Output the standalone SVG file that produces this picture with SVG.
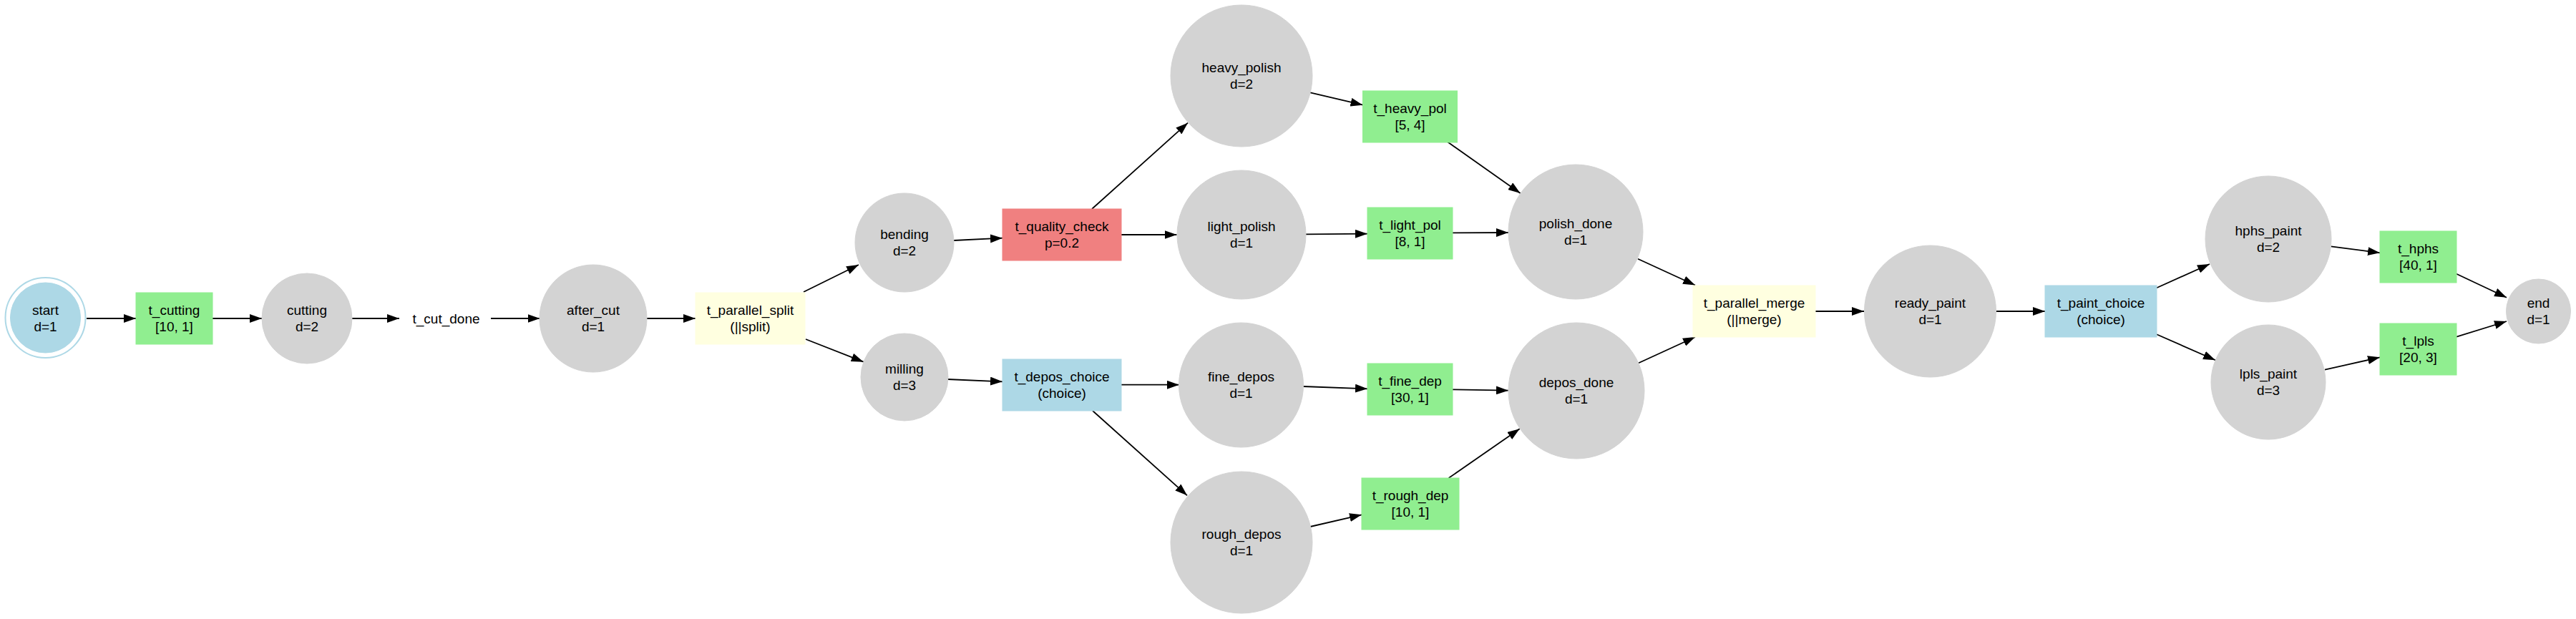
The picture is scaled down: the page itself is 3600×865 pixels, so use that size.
<svg xmlns="http://www.w3.org/2000/svg" width="3600" height="865" viewBox="0 0 3600 865">
<style>
text{font-family:"Liberation Sans",Arial,sans-serif;font-size:19px;fill:#000;text-anchor:middle}
.place{fill:#d3d3d3;stroke:#d3d3d3}
.trans{fill:#90ee90;stroke:#90ee90}
.choice{fill:#add8e6;stroke:#add8e6}
.par{fill:#ffffe0;stroke:#ffffe0}
.qc{fill:#f08080;stroke:#f08080}
#edges line{stroke:#000;stroke-width:1.8;marker-end:url(#arr)}
</style>
<defs>
<marker id="arr" markerUnits="userSpaceOnUse" markerWidth="18" markerHeight="12" refX="17" refY="6" orient="auto">
<path d="M0,0 L17,6 L0,12 z" fill="#000"/>
</marker>
</defs>
<rect width="3600" height="865" fill="#fff"/>
<g id="edges">
<line x1="121" y1="445" x2="190" y2="445"/>
<line x1="297" y1="445" x2="366" y2="445"/>
<line x1="492" y1="445" x2="558" y2="445"/>
<line x1="686" y1="445" x2="754.5" y2="445"/>
<line x1="904" y1="445" x2="972" y2="445"/>
<line x1="1123" y1="408" x2="1200" y2="370"/>
<line x1="1126" y1="474" x2="1206.7" y2="505.7"/>
<line x1="1333" y1="336" x2="1401" y2="332.7"/>
<line x1="1324" y1="530" x2="1401" y2="533.3"/>
<line x1="1526" y1="292" x2="1660" y2="171.7"/>
<line x1="1567" y1="328" x2="1644.6" y2="328"/>
<line x1="1567" y1="537.7" x2="1647.8" y2="537.7"/>
<line x1="1527" y1="574" x2="1659" y2="692.3"/>
<line x1="1831" y1="129.3" x2="1904.5" y2="146.7"/>
<line x1="1825" y1="327.3" x2="1911" y2="326.7"/>
<line x1="1821" y1="540" x2="1911" y2="543.3"/>
<line x1="1831" y1="736" x2="1903" y2="719.3"/>
<line x1="2023" y1="198.3" x2="2124.6" y2="270"/>
<line x1="2030" y1="325.3" x2="2108" y2="325"/>
<line x1="2030" y1="544.3" x2="2108" y2="545.7"/>
<line x1="2024.6" y1="668" x2="2123.7" y2="599.3"/>
<line x1="2289" y1="361.7" x2="2369" y2="398.5"/>
<line x1="2290" y1="507.3" x2="2369" y2="471"/>
<line x1="2537" y1="435" x2="2605" y2="435"/>
<line x1="2790" y1="435" x2="2858" y2="435"/>
<line x1="3014" y1="402.3" x2="3088" y2="369"/>
<line x1="3014" y1="467.3" x2="3096" y2="503.3"/>
<line x1="3257.6" y1="344.3" x2="3326" y2="353.3"/>
<line x1="3249" y1="516.7" x2="3326" y2="499.3"/>
<line x1="3433" y1="382.7" x2="3503" y2="415.7"/>
<line x1="3433" y1="470.7" x2="3503" y2="449"/>
</g>
<g id="start">
<circle cx="63.5" cy="444" r="56" fill="none" stroke="#add8e6" stroke-width="2"/>
<circle cx="63.5" cy="444" r="49" class="choice"/>
<text x="63.5" y="440">start</text><text x="63.5" y="463">d=1</text>
</g>
<g id="t_cutting">
<rect x="190" y="409" width="107" height="72" class="trans"/>
<text x="243.5" y="440">t_cutting</text><text x="243.5" y="463">[10, 1]</text>
</g>
<g id="cutting">
<circle cx="429" cy="445" r="63" class="place"/>
<text x="429" y="440">cutting</text><text x="429" y="463">d=2</text>
</g>
<g id="t_cut_done">
<text x="623.5" y="452">t_cut_done</text>
</g>
<g id="after_cut">
<circle cx="829" cy="445" r="75" class="place"/>
<text x="829" y="440">after_cut</text><text x="829" y="463">d=1</text>
</g>
<g id="t_parallel_split">
<rect x="972" y="409" width="153" height="72" class="par"/>
<text x="1048.5" y="440">t_parallel_split</text><text x="1048.5" y="463">(||split)</text>
</g>
<g id="bending">
<circle cx="1264" cy="339" r="69" class="place"/>
<text x="1264" y="334">bending</text><text x="1264" y="357">d=2</text>
</g>
<g id="milling">
<circle cx="1264" cy="527" r="61" class="place"/>
<text x="1264" y="522">milling</text><text x="1264" y="545">d=3</text>
</g>
<g id="t_quality_check">
<rect x="1401" y="292" width="166" height="72" class="qc"/>
<text x="1484" y="323">t_quality_check</text><text x="1484" y="346">p=0.2</text>
</g>
<g id="t_depos_choice">
<rect x="1401" y="502" width="166" height="72" class="choice"/>
<text x="1484" y="533">t_depos_choice</text><text x="1484" y="556">(choice)</text>
</g>
<g id="heavy_polish">
<circle cx="1735" cy="106" r="99" class="place"/>
<text x="1735" y="101">heavy_polish</text><text x="1735" y="124">d=2</text>
</g>
<g id="light_polish">
<circle cx="1735" cy="328" r="90" class="place"/>
<text x="1735" y="323">light_polish</text><text x="1735" y="346">d=1</text>
</g>
<g id="fine_depos">
<circle cx="1734.5" cy="538" r="87" class="place"/>
<text x="1734.5" y="533">fine_depos</text><text x="1734.5" y="556">d=1</text>
</g>
<g id="rough_depos">
<circle cx="1735" cy="758" r="99" class="place"/>
<text x="1735" y="753">rough_depos</text><text x="1735" y="776">d=1</text>
</g>
<g id="t_heavy_pol">
<rect x="1904.5" y="127" width="132" height="72" class="trans"/>
<text x="1970.5" y="158">t_heavy_pol</text><text x="1970.5" y="181">[5, 4]</text>
</g>
<g id="t_light_pol">
<rect x="1911" y="290" width="119" height="72" class="trans"/>
<text x="1970.5" y="321">t_light_pol</text><text x="1970.5" y="344">[8, 1]</text>
</g>
<g id="t_fine_dep">
<rect x="1911" y="508" width="119" height="72" class="trans"/>
<text x="1970.5" y="539">t_fine_dep</text><text x="1970.5" y="562">[30, 1]</text>
</g>
<g id="t_rough_dep">
<rect x="1903" y="668" width="136" height="72" class="trans"/>
<text x="1971" y="699">t_rough_dep</text><text x="1971" y="722">[10, 1]</text>
</g>
<g id="polish_done">
<circle cx="2202" cy="324" r="94" class="place"/>
<text x="2202" y="319">polish_done</text><text x="2202" y="342">d=1</text>
</g>
<g id="depos_done">
<circle cx="2203" cy="546" r="95" class="place"/>
<text x="2203" y="541">depos_done</text><text x="2203" y="564">d=1</text>
</g>
<g id="t_parallel_merge">
<rect x="2366" y="399" width="171" height="72" class="par"/>
<text x="2451.5" y="430">t_parallel_merge</text><text x="2451.5" y="453">(||merge)</text>
</g>
<g id="ready_paint">
<circle cx="2697.5" cy="435" r="92" class="place"/>
<text x="2697.5" y="430">ready_paint</text><text x="2697.5" y="453">d=1</text>
</g>
<g id="t_paint_choice">
<rect x="2858" y="399" width="156" height="72" class="choice"/>
<text x="2936" y="430">t_paint_choice</text><text x="2936" y="453">(choice)</text>
</g>
<g id="hphs_paint">
<circle cx="3170" cy="334" r="88" class="place"/>
<text x="3170" y="329">hphs_paint</text><text x="3170" y="352">d=2</text>
</g>
<g id="lpls_paint">
<circle cx="3170" cy="534" r="80" class="place"/>
<text x="3170" y="529">lpls_paint</text><text x="3170" y="552">d=3</text>
</g>
<g id="t_hphs">
<rect x="3326" y="323" width="107" height="72" class="trans"/>
<text x="3379.5" y="354">t_hphs</text><text x="3379.5" y="377">[40, 1]</text>
</g>
<g id="t_lpls">
<rect x="3326" y="452" width="107" height="72" class="trans"/>
<text x="3379.5" y="483">t_lpls</text><text x="3379.5" y="506">[20, 3]</text>
</g>
<g id="end">
<circle cx="3547.5" cy="435" r="45" class="place"/>
<text x="3547.5" y="430">end</text><text x="3547.5" y="453">d=1</text>
</g>
</svg>
